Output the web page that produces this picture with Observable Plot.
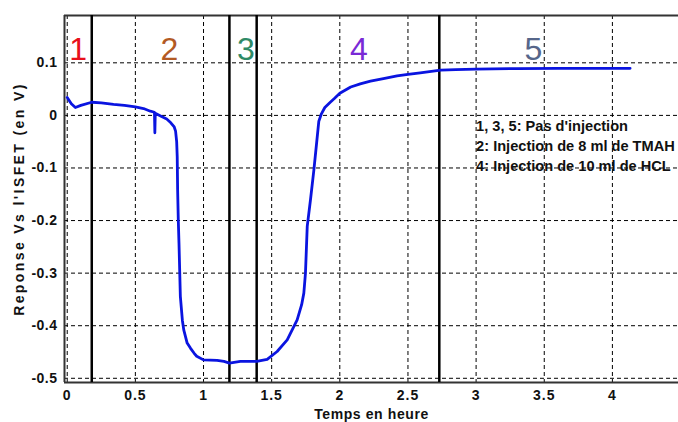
<!DOCTYPE html>
<html>
<head>
<meta charset="utf-8">
<script src="https://cdn.jsdelivr.net/npm/d3@7"></script>
<script src="https://cdn.jsdelivr.net/npm/@observablehq/plot@0.6"></script>
<style>
  html, body { margin: 0; padding: 0; background: #fff; }
  svg { display: block; }
  svg text { font-weight: bold; }
  svg g[aria-label="x-axis tick label"] text { font-size: 14px !important; font-weight: bold !important; letter-spacing: 1px; }
  svg g[aria-label="y-axis tick label"] text { font-size: 14px !important; font-weight: bold !important; letter-spacing: 0.5px; }
</style>
</head>
<body>
<div id="chart"></div>
<script>
// Measured response (time in hours, response in V)
const timeH = [0.0, 0.03, 0.06, 0.10, 0.18, 0.25, 0.34, 0.42, 0.50, 0.56, 0.61, 0.64, 0.643, 0.646, 0.685, 0.73, 0.76, 0.785, 0.795, 0.803, 0.807, 0.81, 0.815, 0.82, 0.83, 0.845, 0.855, 0.88, 0.905, 0.93, 0.95, 1.0, 1.10, 1.15, 1.19, 1.27, 1.39, 1.467, 1.54, 1.614, 1.687, 1.72, 1.736, 1.748, 1.761, 1.785, 1.81, 1.83, 1.846, 1.865, 1.89, 1.93, 1.96, 2.0, 2.08, 2.15, 2.225, 2.32, 2.42, 2.50, 2.59, 2.74, 2.85, 3.0, 3.30, 3.6, 4.13];
const responseV = [0.034, 0.022, 0.015, 0.019, 0.025, 0.024, 0.021, 0.019, 0.016, 0.013, 0.008, 0.006, -0.033, 0.004, -0.001, -0.007, -0.014, -0.022, -0.030, -0.05, -0.078, -0.141, -0.20, -0.243, -0.344, -0.39, -0.408, -0.433, -0.443, -0.452, -0.458, -0.465, -0.466, -0.468, -0.471, -0.468, -0.468, -0.464, -0.449, -0.427, -0.389, -0.36, -0.338, -0.300, -0.211, -0.160, -0.103, -0.052, -0.011, 0.003, 0.015, 0.025, 0.032, 0.042, 0.054, 0.060, 0.065, 0.070, 0.075, 0.078, 0.081, 0.086, 0.087, 0.088, 0.089, 0.0893, 0.0895];

// Phase boundaries (hours)
const boundaries = [0.18, 1.19, 1.39, 2.73];

// Phase labels
const phaseLabels = ["1", "2", "3", "4", "5"];
const phaseX = [0.08, 0.75, 1.31, 2.14, 3.42];
const phaseY = [0.125, 0.125, 0.125, 0.125, 0.125];
const phaseColors = ["#e8101a", "#b35a24", "#2f8a66", "#7a2ad6", "#56668a"];

// Legend notes
const notes = ["1, 3, 5: Pas d'injection", "2: Injection de 8 ml de TMAH", "4: Injection de 10 ml de HCL"];
const notesX = [3.0, 3.0, 3.0];
const notesY = [-0.020, -0.058, -0.096];

// Axes
const xDomain = [-0.02, 4.485];
const yDomain = [-0.508, 0.19];
const xTicks = [0, 0.5, 1, 1.5, 2, 2.5, 3, 3.5, 4];
const yTicks = [-0.5, -0.4, -0.3, -0.2, -0.1, 0, 0.1];
const xLabel = "Temps en heure";
const yLabel = "Reponse Vs l'ISFET (en V)";

const series = timeH.map((t, i) => ({t, v: responseV[i]}));
const phases = phaseLabels.map((l, i) => ({l, x: phaseX[i], y: phaseY[i], c: phaseColors[i]}));
const noteData = notes.map((n, i) => ({n, x: notesX[i], y: notesY[i]}));

const font = "'Liberation Sans Narrow', 'Arial Narrow', 'Liberation Sans', sans-serif";
const fmt = d => String(d);

const chart = Plot.plot({
  width: 678,
  height: 422,
  marginLeft: 64,
  marginRight: 0,
  marginTop: 15,
  marginBottom: 40,
  style: {fontFamily: font, fontSize: "14px", fontWeight: "bold", color: "#111", background: "#fff"},
  x: {domain: xDomain, ticks: xTicks},
  y: {domain: yDomain, ticks: yTicks},
  marks: [
    Plot.gridX(xTicks, {stroke: "#000", strokeOpacity: 1, strokeWidth: 1, strokeDasharray: "4,3"}),
    Plot.gridY(yTicks, {stroke: "#000", strokeOpacity: 1, strokeWidth: 1, strokeDasharray: "4,3"}),
    Plot.ruleX([xDomain[0]], {stroke: "#333", strokeWidth: 2}),
    Plot.ruleY([yDomain[0], yDomain[1]], {stroke: "#333", strokeWidth: 2}),
    Plot.axisX(xTicks, {tickSize: 0, tickPadding: 8, tickFormat: fmt, fontSize: 14, fontWeight: "bold",
      label: xLabel, labelAnchor: "center", labelArrow: "none", labelOffset: 36}),
    Plot.axisY(yTicks, {tickSize: 0, tickPadding: 7, tickFormat: fmt, fontSize: 14, fontWeight: "bold",
      label: yLabel, labelAnchor: "center", labelArrow: "none", labelOffset: 50}),
    Plot.ruleX(boundaries, {stroke: "#000", strokeWidth: 2.5}),
    Plot.line(series, {x: "t", y: "v", stroke: "#0a14e0", strokeWidth: 2.8}),
    Plot.text(phases, {x: "x", y: "y", text: "l", fill: "c", fontSize: 32, fontWeight: "normal", fontFamily: font}),
    Plot.text(noteData, {x: "x", y: "y", text: "n", textAnchor: "start", fontSize: 14.6, fontWeight: "bold", fill: "#111", fontFamily: font})
  ]
});
const svg = d3.select(chart);
const both = l => svg.selectAll(`[aria-label="${l}"], [aria-label="${l}"] text`);
both("y-axis label").style("letter-spacing", "2.4px").style("font-size", "14px");
both("x-axis label").style("letter-spacing", "0.6px").style("font-size", "14px");
svg.selectAll('[aria-label="text"] text').filter(function() { return /^[1-5]$/.test(this.textContent); }).style("font-weight", "normal");
document.getElementById("chart").appendChild(chart);
</script>
</body>
</html>
